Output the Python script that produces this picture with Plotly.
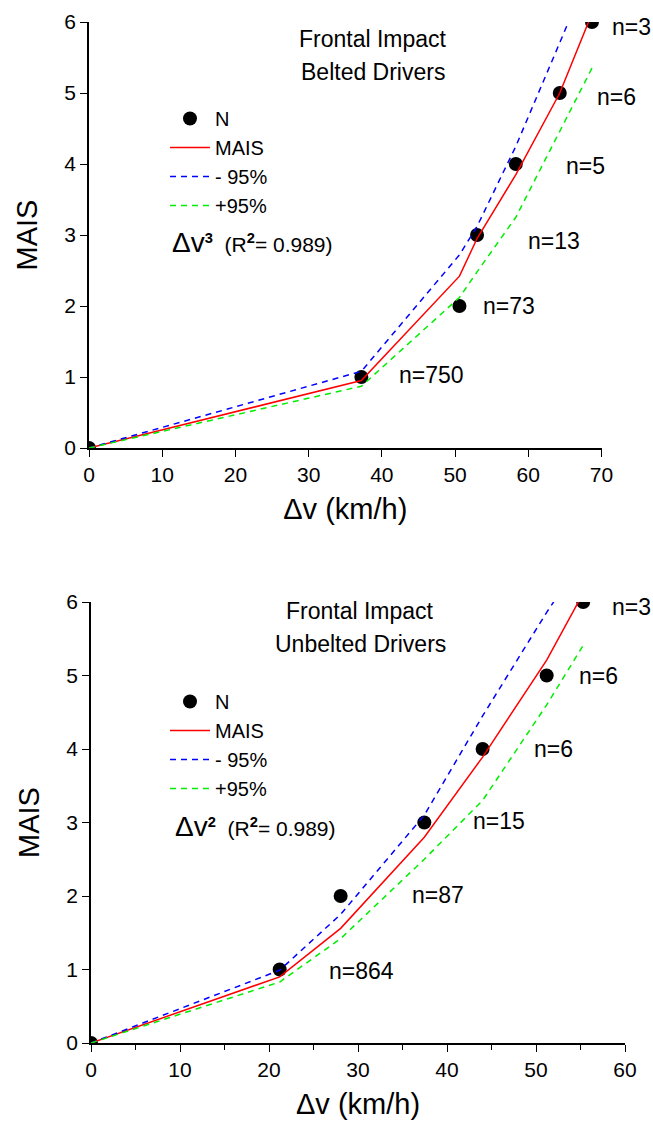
import plotly.graph_objects as go

# ---------------- data ----------------
# Top panel: belted drivers (delta-v^3 model)
top_dv = [0, 37.2, 50.6, 53.0, 58.3, 64.3, 68.7]
top_mais = [0, 1, 2, 3, 4, 5, 6]
top_fit = [0, 0.95, 2.42, 2.95, 3.85, 5.0, 6.12]
top_minus95 = [0, 1.08, 2.72, 3.12, 4.25, 5.74, 6.78]
top_plus95 = [0, 0.87, 2.12, 2.48, 3.25, 4.45, 5.35]
top_counts = ["", "n=750", "n=73", "n=13", "n=5", "n=6", "n=3"]

# Bottom panel: unbelted drivers (delta-v^2 model)
bot_dv = [0, 21.2, 28.05, 37.45, 44.0, 51.2, 55.3]
bot_mais = [0, 1, 2, 3, 4, 5, 6]
bot_fit = [0, 0.90, 1.56, 2.80, 3.89, 5.21, 6.12]
bot_minus95 = [0, 0.99, 1.75, 3.10, 4.45, 5.86, 6.6]
bot_plus95 = [0, 0.83, 1.42, 2.50, 3.30, 4.60, 5.41]
bot_counts = ["", "n=864", "n=87", "n=15", "n=6", "n=6", "n=3"]

# ---------------- layout helpers ----------------
W, H = 653, 1128
FONT = "Liberation Sans, Arial, sans-serif"


def px(x):
    return x / W


def py(y):
    return 1 - y / H


# label pixel offsets (layout only)
top_dx = [0, 36, 22, 49, 48, 35, 18]
top_dy = [0, 2, 0, -6, -2, -4, -5]
bot_dx = [0, 47, 69, 47, 49, 30, 27]
bot_dy = [0, -1, 1, 2, 0, 0, -5]

fig = go.Figure()


def add_panel(xa, ya, dv, mais, fit, m95, p95, legend):
    fig.add_trace(go.Scatter(x=dv, y=mais, mode="markers", name="N",
                             marker=dict(color="black", size=14),
                             xaxis=xa, yaxis=ya, legend=legend))
    fig.add_trace(go.Scatter(x=dv, y=fit, mode="lines", name="MAIS",
                             line=dict(color="#ff0000", width=1.5),
                             xaxis=xa, yaxis=ya, legend=legend))
    fig.add_trace(go.Scatter(x=dv, y=m95, mode="lines", name="- 95%",
                             line=dict(color="#0000ff", width=1.5, dash="6px,5px"),
                             xaxis=xa, yaxis=ya, legend=legend))
    fig.add_trace(go.Scatter(x=dv, y=p95, mode="lines", name="+95%",
                             line=dict(color="#00ee00", width=1.5, dash="6px,5px"),
                             xaxis=xa, yaxis=ya, legend=legend))


add_panel("x", "y", top_dv, top_mais, top_fit, top_minus95, top_plus95, "legend")
add_panel("x2", "y2", bot_dv, bot_mais, bot_fit, bot_minus95, bot_plus95, "legend2")

annotations = []


def count_labels(xref, yref, dv, mais, labels, dx, dy):
    for x, y, t, sx, sy in zip(dv, mais, labels, dx, dy):
        if not t:
            continue
        annotations.append(dict(x=x, y=y, xref=xref, yref=yref, text=t,
                                showarrow=False, xanchor="left", yanchor="middle",
                                xshift=sx, yshift=sy,
                                font=dict(family=FONT, size=23, color="black")))


count_labels("x", "y", top_dv, top_mais, top_counts, top_dx, top_dy)
count_labels("x2", "y2", bot_dv, bot_mais, bot_counts, bot_dx, bot_dy)


def text_at(x, y, t, size, anchor="center"):
    annotations.append(dict(x=px(x), y=py(y), xref="paper", yref="paper", text=t,
                            showarrow=False, xanchor=anchor, yanchor="middle",
                            font=dict(family=FONT, size=size, color="black")))


text_at(373, 39, "Frontal Impact", 23)
text_at(373, 72, "Belted Drivers", 23)
text_at(360, 611, "Frontal Impact", 23)
text_at(360, 644, "Unbelted Drivers", 23)

eq_fmt = ('<span style="font-size:28px">\u0394v</span><sup><b>{p}</b></sup>'
          '  (R<sup><b>2</b></sup>= 0.989)')
text_at(170, 242, eq_fmt.format(p="3"), 21, anchor="left")
text_at(173, 826, eq_fmt.format(p="2"), 21, anchor="left")

axis_common = dict(showline=True, linecolor="black", linewidth=1.6,
                   ticks="outside", ticklen=7, tickwidth=1.4, tickcolor="black",
                   showgrid=False, zeroline=False,
                   tickfont=dict(family=FONT, size=21, color="black"))

title_font = dict(family=FONT, size=29, color="black")

fig.update_layout(
    width=W, height=H,
    margin=dict(l=0, r=0, t=0, b=0),
    paper_bgcolor="white", plot_bgcolor="white",
    showlegend=True,
    annotations=annotations,
    xaxis=dict(domain=[px(89), px(601.5)], range=[0, 70], dtick=10, anchor="y",
               title=dict(text="\u0394v (km/h)", standoff=14, font=title_font),
               automargin=False, **axis_common),
    yaxis=dict(domain=[py(448), py(22)], range=[0, 6], dtick=1, anchor="x",
               title=dict(text="MAIS", standoff=18, font=title_font),
               automargin=False, **axis_common),
    xaxis2=dict(domain=[px(91), px(625)], range=[0, 60], dtick=10, anchor="y2",
                minor=dict(dtick=5, ticks="outside", ticklen=5, tickcolor="black"),
                title=dict(text="\u0394v (km/h)", standoff=14, font=title_font),
                automargin=False, **axis_common),
    yaxis2=dict(domain=[py(1043), py(602)], range=[0, 6], dtick=1, anchor="x2",
                title=dict(text="MAIS", standoff=18, font=title_font),
                automargin=False, **axis_common),
    legend=dict(x=px(165), y=py(99), xanchor="left", yanchor="top",
                bgcolor="rgba(0,0,0,0)", font=dict(family=FONT, size=20, color="black"),
                itemwidth=40, tracegroupgap=0),
    legend2=dict(x=px(165), y=py(682), xanchor="left", yanchor="top",
                 bgcolor="rgba(0,0,0,0)", font=dict(family=FONT, size=20, color="black"),
                 itemwidth=40, tracegroupgap=0),
)

fig.write_html("out.html")
